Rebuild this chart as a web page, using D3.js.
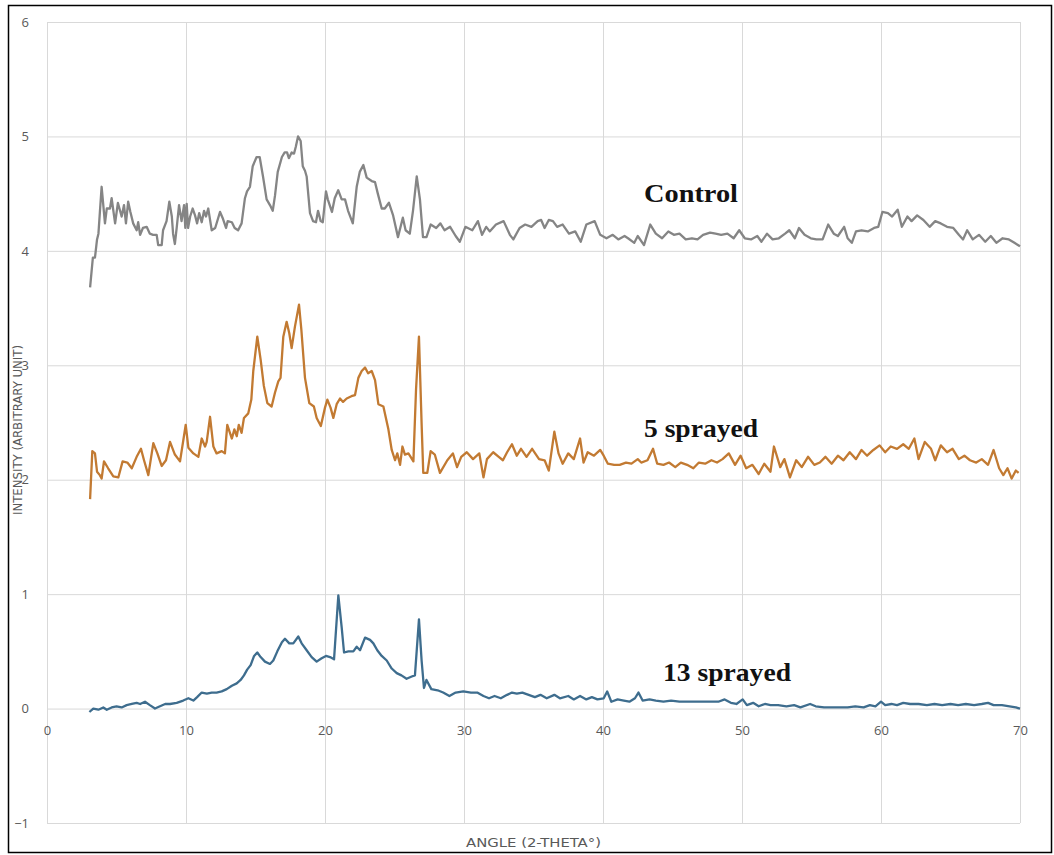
<!DOCTYPE html>
<html>
<head>
<meta charset="utf-8">
<script src="https://cdn.jsdelivr.net/npm/d3@7"></script>
<style>
  body { margin: 0; background: #fff; }
  .grid line { stroke: #d9d9d9; stroke-width: 1; }
  .grid .domain { display: none; }
  .lab text { fill: #595959; font-family: "Open Sans", "Liberation Sans", sans-serif; font-size: 13px; }
  .lab .domain, .lab line { display: none; }
  .ttl { fill: #595959; font-family: "DejaVu Sans Condensed", "Liberation Sans", sans-serif; font-size: 12px; }
  .note { fill: #111; font-family: "Liberation Serif", "DejaVu Serif", serif; font-size: 25px; font-weight: bold; }
</style>
</head>
<body>
<div id="chart"></div>
<script>
// axis ticks
var xTicks = [0, 10, 20, 30, 40, 50, 60, 70];
var yTicks = [-1, 0, 1, 2, 3, 4, 5, 6];

// Control
var controlAngle = [3.1, 3.3, 3.45, 3.6, 3.7, 3.8, 3.93, 4.17, 4.3, 4.53, 4.65, 4.9, 5.1, 5.37, 5.54, 5.68, 5.84, 6.0, 6.2, 6.45, 6.56, 6.7, 6.9, 7.17, 7.4, 7.63, 7.89, 8.0, 8.25, 8.35, 8.6, 8.8, 8.98, 9.07, 9.2, 9.33, 9.5, 9.68, 9.86, 9.95, 10.05, 10.15, 10.3, 10.48, 10.65, 10.8, 10.95, 11.13, 11.3, 11.44, 11.6, 11.85, 12.1, 12.45, 12.66, 12.88, 13.0, 13.3, 13.5, 13.75, 14.0, 14.24, 14.39, 14.6, 14.8, 15.08, 15.3, 15.54, 15.8, 16.04, 16.24, 16.4, 16.6, 16.9, 17.1, 17.27, 17.4, 17.6, 17.77, 17.9, 18.06, 18.25, 18.4, 18.56, 18.68, 18.92, 19.14, 19.35, 19.5, 19.69, 19.84, 20.07, 20.2, 20.5, 20.7, 20.95, 21.2, 21.44, 21.66, 22.0, 22.28, 22.5, 22.76, 23.0, 23.36, 23.6, 23.8, 24.08, 24.3, 24.6, 24.9, 25.25, 25.6, 25.8, 26.1, 26.33, 26.6, 26.83, 27.05, 27.3, 27.6, 28.0, 28.3, 28.6, 29.0, 29.4, 29.7, 30.1, 30.6, 31.0, 31.3, 31.6, 31.85, 32.3, 32.85, 33.3, 33.55, 34.0, 34.4, 34.85, 35.3, 35.55, 35.8, 36.1, 36.4, 36.7, 37.1, 37.55, 38.0, 38.4, 38.8, 39.4, 39.8, 40.25, 40.7, 41.1, 41.55, 41.8, 42.25, 42.5, 42.95, 43.4, 43.8, 44.25, 44.7, 45.1, 45.5, 45.95, 46.4, 46.8, 47.2, 47.7, 48.1, 48.5, 48.95, 49.4, 49.8, 50.2, 50.65, 51.1, 51.4, 51.8, 52.2, 52.65, 53.1, 53.4, 53.8, 54.1, 54.5, 54.95, 55.35, 55.8, 56.2, 56.6, 56.9, 57.35, 57.6, 57.9, 58.2, 58.6, 59.05, 59.5, 59.8, 60.1, 60.5, 60.8, 61.2, 61.5, 61.9, 62.2, 62.6, 63.05, 63.5, 63.9, 64.3, 64.75, 65.2, 65.6, 65.9, 66.2, 66.6, 67.05, 67.5, 67.9, 68.3, 68.75, 69.2, 69.6, 70.0];
var controlValue = [3.68, 3.94, 3.94, 4.1, 4.15, 4.33, 4.56, 4.24, 4.37, 4.37, 4.46, 4.24, 4.42, 4.3, 4.4, 4.24, 4.43, 4.34, 4.24, 4.18, 4.25, 4.14, 4.2, 4.21, 4.15, 4.14, 4.14, 4.05, 4.05, 4.18, 4.26, 4.43, 4.3, 4.15, 4.06, 4.2, 4.4, 4.26, 4.4, 4.2, 4.41, 4.2, 4.3, 4.37, 4.31, 4.24, 4.33, 4.25, 4.35, 4.3, 4.37, 4.18, 4.2, 4.34, 4.28, 4.2, 4.26, 4.25, 4.2, 4.18, 4.24, 4.46, 4.52, 4.56, 4.74, 4.82, 4.82, 4.65, 4.45, 4.4, 4.35, 4.48, 4.69, 4.82, 4.86, 4.86, 4.81, 4.86, 4.85, 4.91, 5.0, 4.96, 4.74, 4.7, 4.65, 4.33, 4.26, 4.25, 4.35, 4.26, 4.25, 4.52, 4.45, 4.34, 4.46, 4.53, 4.45, 4.45, 4.35, 4.24, 4.56, 4.69, 4.75, 4.64, 4.61, 4.6, 4.5, 4.37, 4.37, 4.42, 4.31, 4.12, 4.29, 4.18, 4.15, 4.35, 4.65, 4.45, 4.12, 4.12, 4.23, 4.2, 4.24, 4.18, 4.21, 4.13, 4.08, 4.21, 4.18, 4.26, 4.14, 4.21, 4.17, 4.23, 4.26, 4.14, 4.1, 4.2, 4.23, 4.21, 4.26, 4.27, 4.2, 4.27, 4.26, 4.21, 4.23, 4.15, 4.17, 4.08, 4.23, 4.26, 4.14, 4.11, 4.14, 4.1, 4.13, 4.11, 4.07, 4.13, 4.05, 4.23, 4.15, 4.11, 4.17, 4.14, 4.15, 4.1, 4.11, 4.1, 4.14, 4.16, 4.15, 4.14, 4.15, 4.11, 4.18, 4.11, 4.1, 4.13, 4.08, 4.15, 4.1, 4.11, 4.15, 4.18, 4.11, 4.2, 4.14, 4.11, 4.1, 4.1, 4.23, 4.15, 4.13, 4.21, 4.11, 4.07, 4.17, 4.18, 4.17, 4.2, 4.21, 4.34, 4.33, 4.3, 4.36, 4.21, 4.3, 4.26, 4.31, 4.27, 4.21, 4.26, 4.24, 4.21, 4.2, 4.14, 4.1, 4.18, 4.1, 4.14, 4.08, 4.13, 4.07, 4.11, 4.1, 4.07, 4.04];

// 5 sprayed
var spray5Angle = [3.1, 3.26, 3.45, 3.6, 3.8, 3.93, 4.1, 4.4, 4.77, 5.13, 5.44, 5.78, 6.1, 6.45, 6.76, 6.98, 7.29, 7.65, 7.94, 8.25, 8.56, 8.85, 9.2, 9.57, 9.98, 10.17, 10.53, 10.89, 11.13, 11.37, 11.49, 11.73, 11.97, 12.2, 12.57, 12.8, 12.97, 13.3, 13.48, 13.65, 13.8, 14.0, 14.17, 14.48, 14.7, 14.84, 15.13, 15.37, 15.6, 15.85, 16.16, 16.4, 16.64, 16.8, 17.0, 17.24, 17.43, 17.6, 17.84, 18.13, 18.3, 18.56, 18.87, 19.2, 19.4, 19.7, 20.0, 20.17, 20.4, 20.6, 20.84, 21.08, 21.3, 21.56, 21.9, 22.16, 22.4, 22.64, 22.88, 23.1, 23.36, 23.6, 23.84, 24.2, 24.56, 24.8, 25.04, 25.2, 25.4, 25.57, 25.75, 26.0, 26.16, 26.36, 26.55, 26.76, 26.95, 27.07, 27.36, 27.6, 27.9, 28.27, 28.8, 29.2, 29.5, 29.8, 30.2, 30.65, 31.1, 31.4, 31.65, 32.1, 32.5, 32.8, 33.1, 33.45, 33.8, 34.1, 34.5, 34.9, 35.4, 35.8, 36.1, 36.5, 36.8, 37.1, 37.5, 37.9, 38.35, 38.6, 38.9, 39.35, 39.8, 40.05, 40.35, 40.8, 41.2, 41.65, 42.05, 42.5, 42.75, 43.2, 43.6, 43.9, 44.35, 44.75, 45.2, 45.6, 46.05, 46.5, 46.9, 47.35, 47.8, 48.2, 48.6, 49.05, 49.5, 49.9, 50.3, 50.75, 51.2, 51.6, 52.05, 52.3, 52.75, 53.05, 53.45, 53.9, 54.3, 54.75, 55.2, 55.6, 56.0, 56.45, 56.9, 57.3, 57.75, 58.2, 58.6, 59.0, 59.45, 59.9, 60.3, 60.7, 61.15, 61.6, 62.0, 62.4, 62.7, 63.15, 63.6, 63.9, 64.3, 64.75, 65.15, 65.6, 66.0, 66.4, 66.85, 67.25, 67.7, 68.1, 68.5, 68.8, 69.1, 69.4, 69.7, 69.9];
var spray5Value = [1.83, 2.25, 2.23, 2.07, 2.04, 2.01, 2.16, 2.1, 2.03, 2.02, 2.16, 2.15, 2.1, 2.2, 2.27, 2.17, 2.04, 2.32, 2.23, 2.12, 2.17, 2.33, 2.22, 2.16, 2.48, 2.28, 2.23, 2.2, 2.36, 2.29, 2.33, 2.55, 2.29, 2.23, 2.25, 2.23, 2.48, 2.36, 2.44, 2.38, 2.48, 2.41, 2.54, 2.58, 2.7, 2.95, 3.25, 3.05, 2.82, 2.67, 2.64, 2.76, 2.86, 2.89, 3.25, 3.38, 3.28, 3.15, 3.34, 3.53, 3.31, 2.89, 2.67, 2.64, 2.54, 2.47, 2.63, 2.7, 2.63, 2.54, 2.66, 2.71, 2.68, 2.71, 2.73, 2.74, 2.89, 2.95, 2.98, 2.93, 2.95, 2.87, 2.66, 2.64, 2.44, 2.26, 2.17, 2.23, 2.13, 2.29, 2.22, 2.23, 2.2, 2.16, 2.79, 3.25, 2.49, 2.06, 2.06, 2.25, 2.22, 2.06, 2.17, 2.23, 2.11, 2.2, 2.24, 2.18, 2.23, 2.02, 2.18, 2.24, 2.2, 2.17, 2.24, 2.31, 2.21, 2.27, 2.2, 2.27, 2.18, 2.17, 2.08, 2.42, 2.23, 2.14, 2.23, 2.18, 2.36, 2.15, 2.24, 2.21, 2.26, 2.21, 2.14, 2.13, 2.13, 2.15, 2.14, 2.18, 2.15, 2.17, 2.27, 2.14, 2.13, 2.15, 2.11, 2.15, 2.13, 2.1, 2.15, 2.14, 2.17, 2.15, 2.18, 2.23, 2.13, 2.21, 2.1, 2.13, 2.05, 2.14, 2.07, 2.29, 2.11, 2.18, 2.02, 2.17, 2.11, 2.2, 2.13, 2.15, 2.2, 2.14, 2.21, 2.17, 2.24, 2.18, 2.26, 2.21, 2.26, 2.3, 2.24, 2.29, 2.27, 2.31, 2.27, 2.36, 2.18, 2.33, 2.27, 2.17, 2.3, 2.24, 2.27, 2.18, 2.21, 2.17, 2.15, 2.18, 2.13, 2.26, 2.1, 2.04, 2.1, 2.01, 2.08, 2.06];

// 13 sprayed
var spray13Angle = [3.05, 3.33, 3.7, 4.05, 4.3, 4.65, 5.0, 5.37, 5.73, 6.1, 6.45, 6.7, 7.05, 7.4, 7.77, 8.13, 8.5, 8.85, 9.33, 9.8, 10.17, 10.53, 10.8, 11.13, 11.5, 11.85, 12.2, 12.57, 12.93, 13.3, 13.65, 13.93, 14.17, 14.4, 14.65, 14.9, 15.13, 15.37, 15.68, 16.04, 16.28, 16.57, 16.9, 17.12, 17.43, 17.72, 18.08, 18.32, 18.68, 19.04, 19.4, 19.76, 20.07, 20.36, 20.65, 20.96, 21.2, 21.37, 21.68, 22.04, 22.28, 22.52, 22.88, 23.24, 23.48, 23.76, 24.08, 24.44, 24.8, 25.16, 25.5, 25.87, 26.24, 26.47, 26.76, 26.95, 27.12, 27.3, 27.65, 28.1, 28.5, 28.95, 29.4, 29.95, 30.5, 30.95, 31.4, 31.8, 32.2, 32.65, 33.1, 33.45, 33.8, 34.2, 34.65, 35.1, 35.5, 35.95, 36.5, 36.9, 37.5, 37.9, 38.35, 38.8, 39.2, 39.6, 40.05, 40.3, 40.6, 41.05, 41.5, 41.9, 42.3, 42.55, 42.85, 43.35, 43.8, 44.35, 44.9, 45.5, 46.05, 46.6, 47.2, 47.75, 48.3, 48.75, 49.2, 49.6, 50.05, 50.35, 50.8, 51.2, 51.65, 52.05, 52.6, 53.2, 53.75, 54.2, 54.9, 55.3, 55.9, 56.45, 57.0, 57.6, 58.15, 58.75, 59.2, 59.6, 60.0, 60.3, 60.75, 61.15, 61.6, 62.1, 62.7, 63.3, 63.85, 64.4, 65.0, 65.55, 66.1, 66.7, 67.25, 67.7, 68.1, 68.7, 69.25, 69.7, 70.0];
var spray13Value = [-0.03, 0.0, -0.01, 0.01, -0.01, 0.01, 0.02, 0.01, 0.03, 0.04, 0.05, 0.04, 0.06, 0.03, 0.0, 0.02, 0.04, 0.04, 0.05, 0.07, 0.09, 0.07, 0.1, 0.14, 0.13, 0.14, 0.14, 0.15, 0.17, 0.2, 0.22, 0.25, 0.29, 0.34, 0.38, 0.46, 0.49, 0.45, 0.41, 0.39, 0.42, 0.5, 0.58, 0.61, 0.57, 0.57, 0.63, 0.57, 0.51, 0.45, 0.41, 0.44, 0.46, 0.45, 0.43, 0.99, 0.71, 0.49, 0.5, 0.5, 0.54, 0.51, 0.62, 0.6, 0.57, 0.51, 0.46, 0.42, 0.35, 0.31, 0.29, 0.26, 0.28, 0.29, 0.78, 0.42, 0.18, 0.25, 0.17, 0.16, 0.14, 0.11, 0.14, 0.15, 0.14, 0.14, 0.11, 0.09, 0.11, 0.09, 0.12, 0.14, 0.13, 0.14, 0.12, 0.1, 0.12, 0.09, 0.12, 0.09, 0.11, 0.08, 0.11, 0.08, 0.1, 0.08, 0.09, 0.15, 0.06, 0.08, 0.07, 0.06, 0.09, 0.14, 0.07, 0.08, 0.07, 0.06, 0.07, 0.06, 0.06, 0.06, 0.06, 0.06, 0.06, 0.08, 0.05, 0.04, 0.08, 0.03, 0.05, 0.02, 0.04, 0.03, 0.03, 0.02, 0.03, 0.01, 0.04, 0.02, 0.01, 0.01, 0.01, 0.01, 0.02, 0.01, 0.03, 0.02, 0.06, 0.03, 0.04, 0.03, 0.05, 0.04, 0.04, 0.03, 0.04, 0.03, 0.04, 0.03, 0.04, 0.03, 0.04, 0.05, 0.03, 0.03, 0.02, 0.01, 0.0];

var series = [
  { name: "Control",    angle: controlAngle, value: controlValue, color: "#858585" },
  { name: "5 sprayed",  angle: spray5Angle,  value: spray5Value,  color: "#c27a32" },
  { name: "13 sprayed", angle: spray13Angle, value: spray13Value, color: "#3e6d8e" }
];

var W = 1054, H = 855;
var margin = {top: 22, right: 34, bottom: 32, left: 47};
var width = W - margin.left - margin.right,
    height = H - margin.top - margin.bottom;

var svg = d3.select("#chart").append("svg")
  .attr("width", W).attr("height", H);

// outer frame
svg.append("rect")
  .attr("x", 8.5).attr("y", 5.5).attr("width", 1043).attr("height", 847)
  .attr("fill", "none").attr("stroke", "#000").attr("stroke-width", 1.5);

var g = svg.append("g").attr("transform", "translate(" + margin.left + "," + margin.top + ")");

var x = d3.scaleLinear().domain([0, 70]).range([0, width]);
var y = d3.scaleLinear().domain([-1, 6]).range([height, 0]);

// grid
g.append("g").attr("class", "grid")
  .call(d3.axisLeft(y).tickValues(yTicks).tickSize(-width).tickFormat(""));
g.append("g").attr("class", "grid")
  .attr("transform", "translate(0," + height + ")")
  .call(d3.axisBottom(x).tickValues(xTicks).tickSize(height).tickFormat(""))
  .selectAll("line").attr("y2", -height);

// tick labels
g.append("g").attr("class", "lab")
  .attr("transform", "translate(-8,0)")
  .call(d3.axisLeft(y).tickValues(yTicks).tickSize(0).tickPadding(10).tickFormat(d3.format("d")));
g.append("g").attr("class", "lab")
  .attr("transform", "translate(0," + y(0) + ")")
  .call(d3.axisBottom(x).tickValues(xTicks).tickSize(0).tickPadding(17).tickFormat(d3.format("d")));

// lines
var line = d3.line()
  .x(function(d) { return x(d[0]); })
  .y(function(d) { return y(d[1]); });

g.selectAll(".series")
  .data(series)
  .enter().append("path")
  .attr("class", "series")
  .attr("fill", "none")
  .attr("stroke", function(d) { return d.color; })
  .attr("stroke-width", 2.3)
  .attr("stroke-linejoin", "round")
  .attr("d", function(d) { return line(d3.zip(d.angle, d.value)); });

// series notes
var notes = [
  { text: "Control",    x: 644, y: 202, w: 94 },
  { text: "5 sprayed",  x: 644, y: 437, w: 114 },
  { text: "13 sprayed", x: 663, y: 681, w: 128 }
];
svg.selectAll(".note").data(notes).enter().append("text")
  .attr("class", "note")
  .attr("x", function(d) { return d.x; })
  .attr("y", function(d) { return d.y; })
  .attr("textLength", function(d) { return d.w; })
  .attr("lengthAdjust", "spacingAndGlyphs")
  .text(function(d) { return d.text; });

// axis titles
svg.append("text").attr("class", "ttl")
  .attr("x", margin.left + width / 2).attr("y", 847)
  .attr("text-anchor", "middle")
  .attr("textLength", 135).attr("lengthAdjust", "spacingAndGlyphs")
  .text("ANGLE (2-THETA°)");
svg.append("text").attr("class", "ttl")
  .attr("transform", "translate(22,430) rotate(-90)")
  .attr("text-anchor", "middle")
  .attr("textLength", 170).attr("lengthAdjust", "spacingAndGlyphs")
  .text("INTENSITY (ARBITRARY UNIT)");
</script>
</body>
</html>
